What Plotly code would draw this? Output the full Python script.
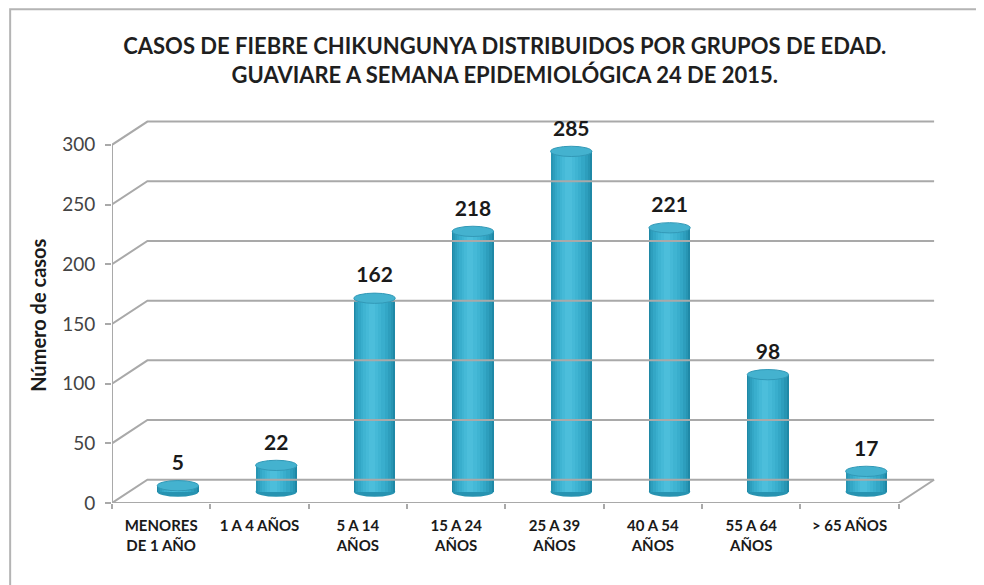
import plotly.graph_objects as go

categories = ["MENORES<br>DE 1 AÑO", "1 A 4 AÑOS", "5 A 14<br>AÑOS", "15 A 24<br>AÑOS",
              "25 A 39<br>AÑOS", "40 A 54<br>AÑOS", "55 A 64<br>AÑOS", "> 65 AÑOS"]
casos = [5, 22, 162, 218, 285, 221, 98, 17]
y_ticks = [0, 50, 100, 150, 200, 250, 300]

title_text = ("<b>CASOS DE FIEBRE CHIKUNGUNYA DISTRIBUIDOS POR GRUPOS DE EDAD.<br>"
              "GUAVIARE A SEMANA EPIDEMIOLÓGICA 24 DE 2015.</b>")
y_title = "<b>Número de casos</b>"

# 3D-look geometry (in axis units)
n = len(categories)
DX = 0.36      # depth offset in category units
DY = 19.5      # depth offset in value units
BASE = 9.5     # cylinder base sits mid-depth
SHIFT = 0.17   # cylinder horizontal shift (mid-depth)
W = 0.42       # cylinder width
EH = 4.3       # ellipse half-height in value units

grid_col = "#a9a9a9"
centers = [i + 0.5 + SHIFT for i in range(n)]

fig = go.Figure()

# perspective grid lines (walls)
gx, gy = [], []
for v in y_ticks:
    gx += [0, DX, n + DX, None]
    gy += [v, v + DY, v + DY, None]
# floor front edge and right edge, y axis line
gx += [0, n, n + DX, None, 0, 0]
gy += [0, 0, DY, None, 0, y_ticks[-1]]
fig.add_trace(go.Scatter(x=gx, y=gy, mode="lines", line=dict(color=grid_col, width=2),
                         hoverinfo="skip", showlegend=False))

# cylinders approximated with layered bars for shading
layers = [
    (1.00, 0.000, "#1f88a6"),
    (0.94, -0.006, "#2795b3"),
    (0.84, -0.010, "#2d9ebd"),
    (0.72, -0.014, "#33a7c6"),
    (0.58, -0.018, "#39aecd"),
    (0.44, -0.022, "#3fb4d2"),
    (0.30, -0.026, "#45b9d7"),
    (0.16, -0.028, "#4cbedb"),
]
for frac, off, col in layers:
    fig.add_trace(go.Bar(
        x=[c + off for c in centers], y=casos, base=[BASE] * n,
        width=W * frac, marker=dict(color=col, line=dict(width=0)),
        hoverinfo="skip", showlegend=False))

# value labels
fig.add_trace(go.Scatter(
    x=centers, y=[v + BASE + EH + 4.5 for v in casos], mode="text",
    text=[str(v) for v in casos], textposition="top center",
    textfont=dict(family="Lato", size=21, color="#1a1a1a", weight="bold"),
    cliponaxis=False, hoverinfo="skip", showlegend=False))

shapes = []
for c, v in zip(centers, casos):
    # bottom ellipse
    shapes.append(dict(type="circle", xref="x", yref="y", layer="between",
                       x0=c - W / 2, x1=c + W / 2, y0=BASE - EH, y1=BASE + EH,
                       fillcolor="#2793b1", line=dict(width=0)))
    # top ellipse
    shapes.append(dict(type="circle", xref="x", yref="y", layer="above",
                       x0=c - W / 2, x1=c + W / 2, y0=v + BASE - EH, y1=v + BASE + EH,
                       fillcolor="#44b2cf", line=dict(color="#3299b7", width=1)))
# outer chart frame
shapes.append(dict(type="rect", xref="paper", yref="paper", layer="above",
                   x0=-0.123, x1=1.2, y0=-0.3, y1=1.253,
                   line=dict(color="#b4b4b4", width=2), fillcolor="rgba(0,0,0,0)"))

fig.update_layout(
    width=976, height=577,
    margin=dict(l=104, r=44, t=101, b=82, autoexpand=False),
    paper_bgcolor="white", plot_bgcolor="white",
    barmode="overlay", bargap=0,
    shapes=shapes,
    title=dict(text=title_text, x=0.509, xanchor="center", xref="container",
               y=1 - 46 / 577, yanchor="top", yref="container",
               font=dict(family="Lato", size=22, color="#1f1f1f")),
    xaxis=dict(range=[0, n + 0.42], tickmode="array", automargin=False,
               tickvals=[i + 0.5 for i in range(n)], ticktext=categories,
               ticks="", showgrid=False, zeroline=False, showline=False,
               ticklabelstandoff=12,
               tickfont=dict(family="Lato", size=15, color="#1a1a1a", weight="bold"),
               minor=dict(tickmode="array", tickvals=list(range(n + 1)), ticks="outside",
                          ticklen=5, tickwidth=2, tickcolor=grid_col, showgrid=False)),
    yaxis=dict(range=[0, 330], tickmode="array", tickvals=y_ticks, automargin=False,
               ticks="outside", ticklen=6, tickwidth=2, tickcolor=grid_col,
               ticklabelstandoff=6,
               showgrid=False, zeroline=False, showline=False,
               tickfont=dict(family="Lato", size=19, color="#444444")),
    annotations=[dict(text=y_title, xref="paper", yref="paper", x=(38 - 112) / 828,
                      y=0.475, textangle=-90, showarrow=False, xanchor="center",
                      yanchor="middle",
                      font=dict(family="Lato", size=20, color="#1a1a1a"))],
)

fig.write_html("out.html")
